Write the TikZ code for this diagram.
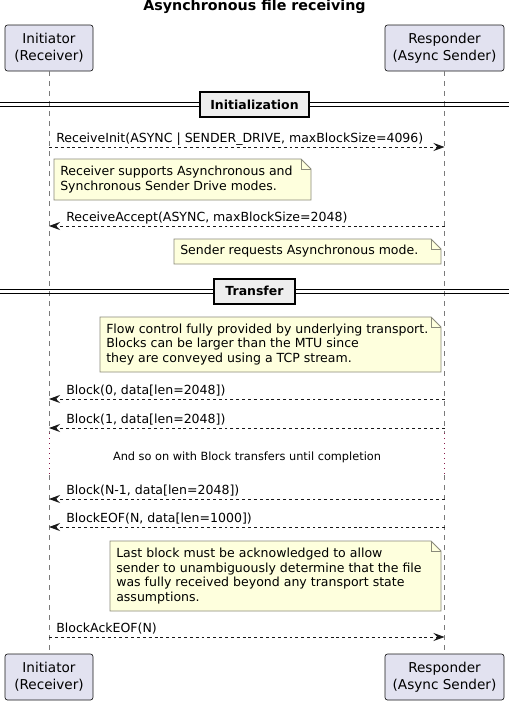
\documentclass[tikz,border=0pt]{standalone}
\usepackage{fontspec}
\setmainfont{DejaVu Sans}
\usetikzlibrary{arrows.meta}
\definecolor{partfill}{HTML}{E2E2F0}
\definecolor{notefill}{HTML}{FEFFDD}
\definecolor{linec}{HTML}{181818}
\definecolor{notec}{HTML}{8A8A7A}
\definecolor{lifec}{HTML}{7A7A7A}
\definecolor{delayc}{HTML}{8B1A4A}
\definecolor{divfill}{HTML}{EEEEEE}
\newcommand{\mynote}[6]{%
  \fill[notefill] (#2,#3) -- (#4-10,#3) -- (#4,#3+10) -- (#4,#5) -- (#2,#5) -- cycle;
  \draw[notec, line width=0.6pt] (#2,#3) -- (#4-10,#3) -- (#4,#3+10) -- (#4,#5) -- (#2,#5) -- cycle;
  \draw[notec, line width=0.6pt] (#4-10,#3) -- (#4-10,#3+10) -- (#4,#3+10);
  \node[notetext] (#1) at (#2+6,{(#3+#5)/2}) {#6};}
\begin{document}
\begin{tikzpicture}[x=0.75pt,y=-0.75pt,
  part/.style={draw=linec, line width=0.5pt, fill=partfill, rounded corners=1.9pt,
    minimum height=34.5pt, align=center, inner sep=0pt,
    font=\fontsize{10.2}{12.5}\selectfont},
  lifeline/.style={draw=lifec, line width=0.5pt, dash pattern=on 3.75pt off 3.75pt},
  delayline/.style={draw=delayc, line width=0.75pt, dash pattern=on 0.75pt off 3pt},
  msg/.style={draw=linec, line width=0.6pt, dash pattern=on 2.2pt off 2.2pt,
    -{Stealth[length=8.25pt,width=6pt,inset=3pt]}},
  msglabel/.style={anchor=base west, inner sep=0pt, font=\fontsize{9.4}{11}\selectfont},
  notetext/.style={anchor=west, align=left, inner sep=0pt, font=\fontsize{9.4}{10.9}\selectfont},
  divbox/.style={draw=black, line width=1.5pt, fill=divfill, inner sep=0pt,
    minimum height=18.75pt, font=\bfseries\fontsize{9.35}{11}\selectfont},
  divline/.style={draw=black, line width=0.75pt}]
\useasboundingbox (0,0) rectangle (509,701);
\fill[white] (0,0) rectangle (509,701);

% title
\node[font=\bfseries\fontsize{10.7}{12}\selectfont, inner sep=0pt] (title) at (254.5,7) {Asynchronous file receiving};

% participants
\node[part, minimum width=66pt] (pA) at (49,48) {Initiator\\(Receiver)};
\node[part, minimum width=89.25pt] (pB) at (444.5,48) {Responder\\(Async Sender)};
\node[part, minimum width=66pt] (pA2) at (49,677) {Initiator\\(Receiver)};
\node[part, minimum width=89.25pt] (pB2) at (444.5,677) {Responder\\(Async Sender)};

% lifelines
\coordinate (aD1) at (49,433); \coordinate (aD2) at (49,475);
\coordinate (bD1) at (444.5,433); \coordinate (bD2) at (444.5,475);
\draw[lifeline] (pA.south) -- (aD1);
\draw[delayline] (aD1) -- (aD2);
\draw[lifeline] (aD2) -- (pA2.north);
\draw[lifeline] (pB.south) -- (bD1);
\draw[delayline] (bD1) -- (bD2);
\draw[lifeline] (bD2) -- (pB2.north);

% divider: Initialization
\coordinate (d1l) at (0,104.5); \coordinate (d1r) at (509,104.5);
\draw[divline] ([yshift=1.7pt]d1l) -- ([yshift=1.7pt]d1r);
\draw[divline] ([yshift=-1.7pt]d1l) -- ([yshift=-1.7pt]d1r);
\node[divbox, minimum width=81.75pt] (div1) at (254.5,104.5) {Initialization};

% message 1
\coordinate (a1) at (49,147); \coordinate (b1) at (444.5,147);
\draw[msg] (a1) -- (b1);
\node[msglabel] (m1) at (56,142) {ReceiveInit(ASYNC | SENDER\_DRIVE, maxBlockSize=4096)};

\mynote{n1}{54}{159}{311}{200}{Receiver supports Asynchronous and\\Synchronous Sender Drive modes.}

% message 2
\coordinate (a2) at (49,226); \coordinate (b2) at (444.5,226);
\draw[msg] (b2) -- (a2);
\node[msglabel] (m2) at (66,221) {ReceiveAccept(ASYNC, maxBlockSize=2048)};

\mynote{n2}{174}{239}{441}{264}{Sender requests Asynchronous mode.}

% divider: Transfer
\coordinate (d2l) at (0,291.5); \coordinate (d2r) at (509,291.5);
\draw[divline] ([yshift=1.7pt]d2l) -- ([yshift=1.7pt]d2r);
\draw[divline] ([yshift=-1.7pt]d2l) -- ([yshift=-1.7pt]d2r);
\node[divbox, minimum width=60.75pt] (div2) at (254.5,291) {Transfer};

\mynote{n3}{100}{317}{441}{372}{Flow control fully provided by underlying transport.\\Blocks can be larger than the MTU since\\they are conveyed using a TCP stream.}

% blocks
\coordinate (a3) at (49,399); \coordinate (b3) at (444.5,399);
\draw[msg] (b3) -- (a3);
\node[msglabel] (m3) at (66,394) {Block(0, data[len=2048])};

\coordinate (a4) at (49,428); \coordinate (b4) at (444.5,428);
\draw[msg] (b4) -- (a4);
\node[msglabel] (m4) at (66,423) {Block(1, data[len=2048])};

\node[inner sep=0pt, font=\fontsize{8.5}{10}\selectfont] (delay) at (247,457) {And so on with Block transfers until completion};

\coordinate (a5) at (49,499); \coordinate (b5) at (444.5,499);
\draw[msg] (b5) -- (a5);
\node[msglabel] (m5) at (66,494) {Block(N-1, data[len=2048])};

\coordinate (a6) at (49,527); \coordinate (b6) at (444.5,527);
\draw[msg] (b6) -- (a6);
\node[msglabel] (m6) at (66,522) {BlockEOF(N, data[len=1000])};

\mynote{n4}{110}{541}{441}{611}{Last block must be acknowledged to allow\\sender to unambiguously determine that the file\\was fully received beyond any transport state\\assumptions.}

\coordinate (a7) at (49,637); \coordinate (b7) at (444.5,637);
\draw[msg] (a7) -- (b7);
\node[msglabel] (m7) at (56,632) {BlockAckEOF(N)};
\end{tikzpicture}
\end{document}
